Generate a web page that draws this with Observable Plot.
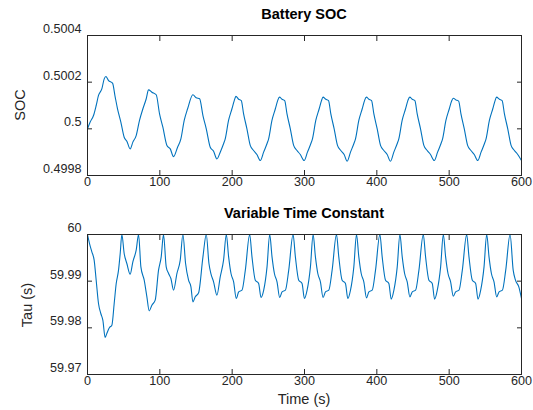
<!DOCTYPE html>
<html><head><meta charset="utf-8">
<script src="https://cdn.jsdelivr.net/npm/d3@7"></script>
<script src="https://cdn.jsdelivr.net/npm/@observablehq/plot@0.6"></script>
<style>
body{margin:0;background:#fff;}
#chart{position:relative;width:533px;height:410px;font-family:"Liberation Sans",Arial,Helvetica,sans-serif;overflow:hidden;}
#chart svg{display:block;}
.lab{position:absolute;white-space:nowrap;color:#262626;transform:translate(-50%,-50%);line-height:1.15;}
.ttl{font-weight:bold;color:#000;font-size:14.5px;}
.ax{font-size:14.5px;}
.rot{transform:translate(-50%,-50%) rotate(-90deg);}
</style></head><body><div id="chart"></div>
<script>
// ---- Battery SOC (time in s, SOC value) ----
const socTime = [
  0, 3.7, 8.3, 12.0, 15.2, 19.8, 23.1, 25.4, 29.1, 34.6, 38.3, 41.5, 46.1, 50.7, 54.4,
  59.0, 62.7, 67.3, 71.9, 76.6, 81.2, 84.4, 89.0, 95.0, 99.6, 104.2, 109.8, 114.4,
  119.0, 124.5, 129.1, 133.7, 138.4, 145.7, 150.3, 155.0, 159.6, 164.2, 169.7, 174.3,
  178.9, 183.5, 188.1, 190.4, 195.0, 199.7, 202.9, 205.2, 208.9, 212.6, 215.8, 220.4, 225.0, 229.6, 234.2,
  238.9, 243.5, 248.1, 250.4, 255.0, 259.7, 262.9, 265.4, 268.9, 272.6, 275.8, 280.4, 285.0, 289.6, 294.2,
  299.5, 304.1, 308.7, 311.0, 315.6, 320.3, 323.5, 325.6, 329.5, 333.2, 336.4, 341.0, 345.6, 350.2, 354.8,
  359.0, 363.6, 368.2, 370.5, 375.1, 379.8, 383.0, 385.5, 389.0, 392.7, 395.9, 400.5, 405.1, 409.7, 414.3,
  418.9, 423.5, 428.1, 430.4, 435.0, 439.7, 442.9, 445.5, 448.9, 452.6, 455.8, 460.4, 465.0, 469.6, 474.2,
  479.4, 484.0, 488.6, 490.9, 495.5, 500.2, 503.4, 505.6, 509.4, 513.1, 516.3, 520.9, 525.5, 530.1, 534.7,
  539.5, 544.1, 548.7, 551.0, 555.6, 560.3, 563.5, 565.5, 569.5, 573.2, 576.4, 581.0, 585.6, 590.2, 594.8,
  600
];
const socValue = [
  0.500000, 0.500029, 0.500057, 0.500100, 0.500143, 0.500171, 0.500214, 0.500224, 0.500207, 0.500196, 0.500136, 0.500086, 0.500029, 0.499964, 0.499947,
  0.499914, 0.499943, 0.499971, 0.500036, 0.500086, 0.500129, 0.500167, 0.500157, 0.500146, 0.500064, 0.500007, 0.499929, 0.499914,
  0.499881, 0.499921, 0.499957, 0.500036, 0.500086, 0.500146, 0.500133, 0.500129, 0.500057, 0.500000, 0.499921, 0.499904,
  0.499871, 0.499900, 0.499936, 0.499957, 0.500036, 0.500086, 0.500121, 0.500139, 0.500127, 0.500121, 0.500064, 0.500000, 0.499929, 0.499907, 0.499890,
  0.499864, 0.499900, 0.499936, 0.499957, 0.500036, 0.500086, 0.500121, 0.500136, 0.500127, 0.500121, 0.500064, 0.500000, 0.499929, 0.499907, 0.499890,
  0.499864, 0.499900, 0.499936, 0.499957, 0.500036, 0.500086, 0.500121, 0.500136, 0.500127, 0.500121, 0.500064, 0.500000, 0.499929, 0.499907, 0.499890,
  0.499861, 0.499900, 0.499936, 0.499957, 0.500036, 0.500086, 0.500121, 0.500136, 0.500127, 0.500121, 0.500064, 0.500000, 0.499929, 0.499907, 0.499890,
  0.499861, 0.499900, 0.499936, 0.499957, 0.500036, 0.500086, 0.500121, 0.500136, 0.500127, 0.500121, 0.500064, 0.500000, 0.499929, 0.499907, 0.499890,
  0.499864, 0.499900, 0.499936, 0.499957, 0.500036, 0.500086, 0.500119, 0.500131, 0.500124, 0.500119, 0.500064, 0.500000, 0.499929, 0.499907, 0.499890,
  0.499864, 0.499900, 0.499936, 0.499957, 0.500036, 0.500086, 0.500121, 0.500136, 0.500127, 0.500121, 0.500064, 0.500000, 0.499929, 0.499907, 0.499890,
  0.499864
];

// ---- Variable time constant (time in s, tau in s) ----
const tauTime = [
  0, 2.8, 6.0, 9.2, 12.0, 15.2, 18.4, 21.2, 24.4, 26.7, 30.4, 33.7, 36.9, 39.7, 42.9, 45.2,
  47.5, 50.7, 54.4, 59.0, 62.7, 67.3, 70.6, 73.8, 78.4, 82.1, 85.3, 89.0, 93.6, 98.2, 101.9,
  105.1, 108.8, 112.1, 115.3, 119.0, 123.6, 128.2, 131.9, 135.6, 139.7, 143.0, 145.7, 149.0,
  153.6, 159.6, 164.2, 167.9, 170.6, 174.3, 178.9, 183.5, 188.1,
  191.9, 195.1, 198.4, 202.0, 205.7, 209.0, 213.6, 218.2, 224.2, 227.4, 232.0, 236.6, 239.9, 243.6, 248.2,
  251.9, 255.1, 258.4, 262.0, 265.7, 269.0, 273.6, 278.2, 284.2, 287.4, 292.0, 296.6, 299.9, 303.6, 308.2,
  311.9, 315.1, 318.4, 322.0, 325.7, 329.0, 333.6, 338.2, 344.2, 347.4, 352.0, 356.6, 359.9, 363.6, 368.2,
  371.9, 375.1, 378.4, 382.0, 385.7, 389.0, 393.6, 398.2, 404.2, 407.4, 412.0, 416.6, 419.9, 423.6, 428.2,
  431.9, 435.1, 438.4, 442.0, 445.7, 449.0, 453.6, 458.2, 464.2, 467.4, 472.0, 476.6, 479.9, 483.6, 488.2,
  491.9, 495.1, 498.4, 502.0, 505.7, 509.0, 513.6, 518.2, 524.2, 527.4, 532.0, 536.6, 539.9, 543.6, 548.2,
  551.9, 555.1, 558.4, 562.0, 565.7, 569.0, 573.6, 578.2, 584.2, 588.5, 591.7, 596.3, 600
];
const tauValue = [
  60.00000, 59.99807, 59.99629, 59.99450, 59.99021, 59.98521, 59.98307, 59.98164, 59.97793, 59.97879, 59.98007, 59.98057, 59.98521, 59.98950, 59.99236, 59.99593,
  60.00000, 59.99593, 59.99379, 59.99150, 59.99414, 59.99664, 60.00000, 59.99307, 59.99021, 59.98664, 59.98364, 59.98486, 59.98593, 59.99236, 59.99521,
  60.00000, 59.99307, 59.99164, 59.99057, 59.98807, 59.99164, 59.99450, 60.00000, 59.99379, 59.99021, 59.98879, 59.98557, 59.98664,
  59.98750, 59.99521, 60.00000, 59.99379, 59.99164, 59.98986, 59.98700, 59.99093, 59.99450,
  60.00000, 59.99521, 59.99164, 59.98986, 59.98629, 59.98771, 59.98807, 59.99236, 60.00000, 59.99521, 59.99021, 59.98950, 59.98650, 59.98807, 59.99307,
  60.00000, 59.99521, 59.99164, 59.98986, 59.98650, 59.98771, 59.98807, 59.99236, 60.00000, 59.99521, 59.99021, 59.98950, 59.98629, 59.98807, 59.99307,
  60.00000, 59.99521, 59.99164, 59.98986, 59.98650, 59.98771, 59.98807, 59.99236, 60.00000, 59.99521, 59.99021, 59.98950, 59.98629, 59.98807, 59.99307,
  60.00000, 59.99521, 59.99164, 59.98986, 59.98643, 59.98771, 59.98807, 59.99236, 60.00000, 59.99521, 59.99021, 59.98950, 59.98614, 59.98807, 59.99307,
  60.00000, 59.99521, 59.99164, 59.98986, 59.98664, 59.98771, 59.98807, 59.99236, 60.00000, 59.99521, 59.99021, 59.98950, 59.98614, 59.98807, 59.99307,
  60.00000, 59.99521, 59.99164, 59.98986, 59.98679, 59.98771, 59.98807, 59.99236, 60.00000, 59.99521, 59.99021, 59.98950, 59.98614, 59.98807, 59.99307,
  60.00000, 59.99521, 59.99164, 59.98986, 59.98664, 59.98771, 59.98807, 59.99236, 60.00000, 59.99236, 59.99021, 59.98879, 59.98629
];

const xTicks = [0, 100, 200, 300, 400, 500, 600];
const socTicks = [0.4998, 0.5, 0.5002, 0.5004];
const socTickLabels = ["0.4998", "0.5", "0.5002", "0.5004"];
const tauTicks = [59.97, 59.98, 59.99, 60];
const tauTickLabels = ["59.97", "59.98", "59.99", "60"];
const titles = ["Battery SOC", "Variable Time Constant"];
const yLabels = ["SOC", "Tau (s)"];
const xLabel = "Time (s)";

const INK = "#262626";
const LINE = "#0072BD";
const FS = 12.6;

function panel({time, value, yDomain, yTicks, yTickLabels, marginTop, marginBottom}) {
  const data = time.map((t, i) => ({t, v: value[i]}));
  const fmt = d => yTickLabels[yTicks.indexOf(d)];
  return Plot.plot({
    width: 533, height: 205,
    marginLeft: 87, marginRight: 12, marginTop, marginBottom,
    style: {fontFamily: '"Liberation Sans", Arial, Helvetica, sans-serif', background: "#fff", color: INK, overflow: "visible"},
    x: {domain: [0, 600]},
    y: {domain: yDomain},
    marks: [
      Plot.line(data, {x: "t", y: "v", stroke: LINE, strokeWidth: 1.1, curve: "monotone-x", clip: true}),
      Plot.frame({stroke: INK, strokeWidth: 1}),
      // inward ticks on all four sides
      Plot.axisX(xTicks, {anchor: "bottom", tickSize: -5, fill: "none", stroke: INK}),
      Plot.axisX(xTicks, {anchor: "top", tickSize: -5, fill: "none", stroke: INK}),
      Plot.axisY(yTicks, {anchor: "left", tickSize: -5, fill: "none", stroke: INK}),
      Plot.axisY(yTicks, {anchor: "right", tickSize: -5, fill: "none", stroke: INK}),
      // tick labels
      Plot.axisX(xTicks, {anchor: "bottom", tickSize: 0, tickPadding: 2, fontSize: FS, fill: INK, label: null, tickFormat: d => String(d)}),
      Plot.axisY(yTicks, {anchor: "left", tickSize: 0, tickPadding: 6, dy: -6.5, fontSize: FS, fill: INK, label: null, tickFormat: fmt})
    ]
  });
}

const root = document.getElementById("chart");
root.append(panel({time: socTime, value: socValue, yDomain: [0.4998, 0.5004], yTicks: socTicks, yTickLabels: socTickLabels, marginTop: 35, marginBottom: 30}));
root.append(panel({time: tauTime, value: tauValue, yDomain: [59.97, 60], yTicks: tauTicks, yTickLabels: tauTickLabels, marginTop: 29, marginBottom: 36}));

function addLabel(text, cls, left, top) {
  const d = document.createElement("div");
  d.className = "lab " + cls;
  d.textContent = text;
  d.style.left = left + "px";
  d.style.top = top + "px";
  root.append(d);
}
addLabel(titles[0], "ttl", 304, 14.2);
addLabel(titles[1], "ttl", 304, 213.3);
addLabel(yLabels[0], "ax rot", 20, 105);
addLabel(yLabels[1], "ax rot", 26.5, 305);
addLabel(xLabel, "ax", 304, 398.5);
</script></body></html>
